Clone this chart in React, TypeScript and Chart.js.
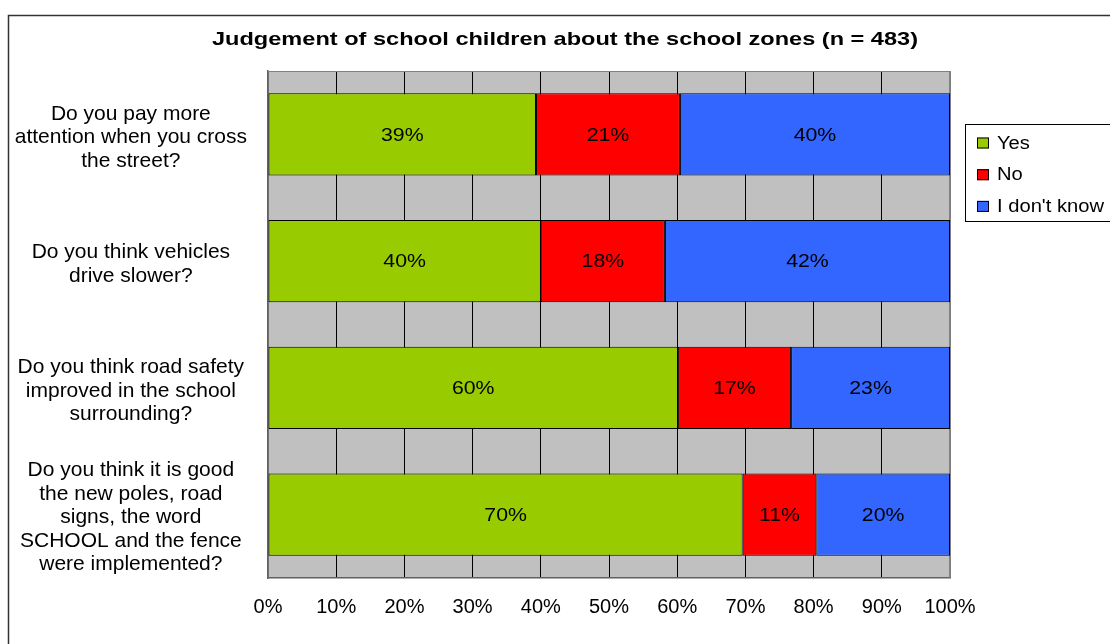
import React, { useEffect, useRef } from "react";
import { Chart, registerables } from "chart.js";

Chart.register(...registerables);

const chartTitle = "Judgement of school children about the school zones (n = 483)";
const categories: string[][] = [
  ["Do you pay more", "attention when you cross", "the street?"],
  ["Do you think vehicles", "drive slower?"],
  ["Do you think road safety", "improved in the school", "surrounding?"],
  ["Do you think it is good", "the new poles, road", "signs, the word", "SCHOOL and the fence", "were implemented?"],
];
const seriesNames = ["Yes", "No", "I don't know"];
const yesValues = [39.3, 40.0, 60.1, 69.6];
const noValues = [21.1, 18.2, 16.6, 10.8];
const dontKnowValues = [39.6, 41.8, 23.3, 19.6];
const xTickValues = [0, 10, 20, 30, 40, 50, 60, 70, 80, 90, 100];

const seriesColors = ["#99CC00", "#FF0000", "#3366FF"];
const FONT = "'Liberation Sans', Arial, sans-serif";

function drawStretched(ctx: CanvasRenderingContext2D, text: string, x: number, y: number, sx: number, align: CanvasTextAlign) {
  ctx.save();
  ctx.translate(x, y);
  ctx.scale(sx, 1);
  ctx.textAlign = align;
  ctx.fillText(text, 0, 0);
  ctx.restore();
}

const decorPlugin = {
  id: "decor",
  beforeDraw(chart: any) {
    const ctx: CanvasRenderingContext2D = chart.ctx;
    const { left, right, top, bottom } = chart.chartArea;
    ctx.save();
    ctx.fillStyle = "#FFFFFF";
    ctx.fillRect(0, 0, chart.width, chart.height);
    // outer frame
    ctx.strokeStyle = "#333333";
    ctx.lineWidth = 1.5;
    ctx.strokeRect(8.5, 15.5, chart.width + 20, chart.height + 20);
    // plot background
    ctx.fillStyle = "#C0C0C0";
    ctx.fillRect(left, top, right - left, bottom - top);
    // title
    ctx.fillStyle = "#000000";
    ctx.font = `bold 19px ${FONT}`;
    ctx.textBaseline = "alphabetic";
    const w = ctx.measureText(chartTitle).width;
    drawStretched(ctx, chartTitle, 565, 45, 706 / w, "center");
    ctx.restore();
  },
  beforeDatasetsDraw(chart: any) {
    const ctx: CanvasRenderingContext2D = chart.ctx;
    const { left, right, top, bottom } = chart.chartArea;
    ctx.save();
    ctx.strokeStyle = "#808080";
    ctx.lineWidth = 1;
    ctx.beginPath();
    ctx.moveTo(left, top + 0.5);
    ctx.lineTo(right, top + 0.5);
    ctx.moveTo(right - 0.5, top);
    ctx.lineTo(right - 0.5, bottom);
    ctx.stroke();
    ctx.restore();
  },
  afterDatasetsDraw(chart: any) {
    const ctx: CanvasRenderingContext2D = chart.ctx;
    ctx.save();
    ctx.fillStyle = "#000000";
    ctx.font = `19px ${FONT}`;
    ctx.textBaseline = "middle";
    chart.data.datasets.forEach((ds: any, di: number) => {
      const meta = chart.getDatasetMeta(di);
      meta.data.forEach((el: any, i: number) => {
        const p = el.getProps(["x", "y", "base"], true);
        const cx = (p.x + p.base) / 2;
        const label = Math.round(ds.data[i]) + "%";
        drawStretched(ctx, label, cx, p.y + 1, 1.12, "center");
      });
    });
    ctx.restore();
  },
  afterDraw(chart: any) {
    const ctx: CanvasRenderingContext2D = chart.ctx;
    ctx.save();
    // legend box
    ctx.fillStyle = "#FFFFFF";
    ctx.fillRect(965, 124, 200, 98);
    ctx.strokeStyle = "#000000";
    ctx.lineWidth = 1;
    ctx.strokeRect(965.5, 124.5, 200, 97);
    ctx.font = `18px ${FONT}`;
    ctx.textBaseline = "alphabetic";
    chart.data.datasets.forEach((ds: any, i: number) => {
      const base = 148.5 + i * 31.7;
      ctx.fillStyle = ds.backgroundColor;
      ctx.fillRect(977, base - 11, 12, 11);
      ctx.strokeStyle = "#000000";
      ctx.strokeRect(977.5, base - 10.5, 11, 10);
      ctx.fillStyle = "#000000";
      drawStretched(ctx, ds.label, 997, base, 1.12, "left");
    });
    ctx.restore();
  },
};

export default function App() {
  const canvasRef = useRef<HTMLCanvasElement | null>(null);

  useEffect(() => {
    const canvas = canvasRef.current;
    if (!canvas) return;
    const valueSets = [yesValues, noValues, dontKnowValues];
    const chart = new Chart(canvas, {
      type: "bar",
      data: {
        labels: categories,
        datasets: seriesNames.map((name, i) => ({
          label: name,
          data: valueSets[i],
          backgroundColor: seriesColors[i],
          borderColor: "#000000",
          borderWidth: 1,
          borderSkipped: false,
          barPercentage: 0.65,
          categoryPercentage: 1,
        })),
      },
      options: {
        indexAxis: "y",
        responsive: false,
        animation: false,
        devicePixelRatio: 1,
        layout: { padding: { left: 0, top: 71, right: 160, bottom: 0 } },
        plugins: {
          legend: { display: false },
          title: { display: false },
          tooltip: { enabled: false },
        },
        scales: {
          x: {
            stacked: true,
            min: 0,
            max: 100,
            afterBuildTicks: (scale: any) => {
              scale.ticks = xTickValues.map((v) => ({ value: v }));
            },
            ticks: {
              callback: (v: any) => v + "%",
              color: "#000000",
              font: { family: FONT, size: 20 },
              padding: 17,
              maxRotation: 0,
              autoSkip: false,
            },
            grid: {
              color: (c: any) => (c.index === 0 || c.index === xTickValues.length - 1 ? "#808080" : "#000000"),
              drawTicks: false,
              lineWidth: 1,
            },
            border: { color: "#606060", width: 1.5 },
            afterFit: (s: any) => {
              s.height = 66;
              s.paddingLeft = 0;
              s.paddingRight = 0;
            },
          },
          y: {
            stacked: true,
            ticks: {
              color: "#000000",
              font: { family: FONT, size: 21, lineHeight: 1.12 },
              crossAlign: "center",
              padding: 21,
              labelOffset: 3,
              autoSkip: false,
            },
            grid: { display: false, drawTicks: false },
            border: { color: "#606060", width: 1.5 },
            afterFit: (s: any) => {
              s.width = 268;
              s.paddingTop = 0;
              s.paddingBottom = 0;
            },
          },
        },
      },
      plugins: [decorPlugin],
    } as any);
    return () => chart.destroy();
  }, []);

  return (
    <div style={{ position: "absolute", left: 0, top: 0, width: 1110, height: 644, overflow: "hidden" }}>
      <canvas ref={canvasRef} width={1110} height={644} style={{ display: "block" }} />
    </div>
  );
}
